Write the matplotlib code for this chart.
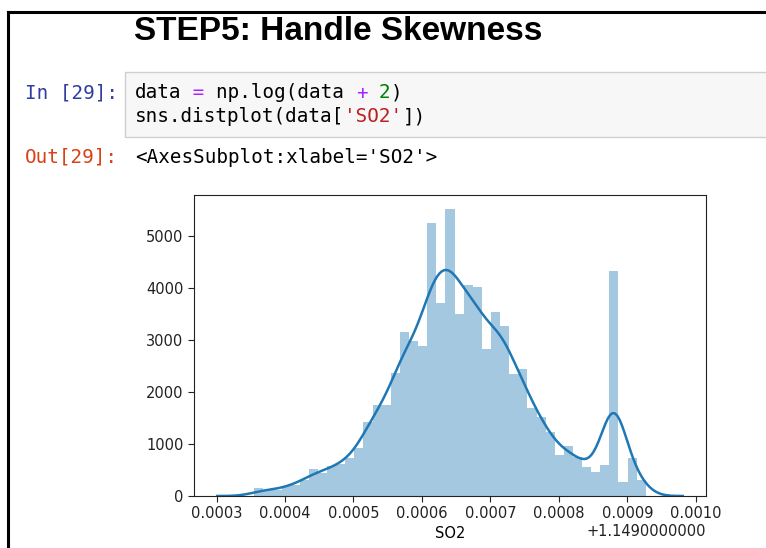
import numpy as np
import matplotlib.pyplot as plt
from matplotlib.lines import Line2D
from matplotlib.patches import Rectangle

plt.rcParams['font.family'] = ['DejaVu Sans']

W, H = 766, 548

# SO2 after np.log(data + 2); x values are offsets from 1.149
so2_offset_label = '+1.1490000000'
bin_lo = 0.000355
bin_hi = 0.000927
density = [155, 110, 110, 195, 220, 300, 510, 450, 570, 625, 730, 915,
           1430, 1750, 1750, 2360, 3150, 2985, 2890, 5245, 3714, 5515, 3500, 4050,
           4023, 2826, 3540, 3276, 2350, 2446, 1687, 1513, 1230, 786, 955,
           753, 560, 463, 593, 4324, 270, 722, 303]
kde_bw = 1.8e-5

code_lines = [
    [('data', 'k'), (' = ', '#AA22FF'), ('np.log(data ', 'k'), ('+', '#AA22FF'),
     (' ', 'k'), ('2', '#008000'), (')', 'k')],
    [('sns.distplot(data[', 'k'), ("'SO2'", '#BA2121'), ('])', 'k')],
]
out_repr = "<AxesSubplot:xlabel='SO2'>"


def fx(x):
    return x / W


def fy(y):
    return 1 - y / H


fig = plt.figure(figsize=(W / 100, H / 100), dpi=100)
fig.patch.set_facecolor('white')

# notebook frame
fig.add_artist(Line2D([fx(8), fx(W)], [fy(12), fy(12)], color='black', lw=2.2))
fig.add_artist(Line2D([fx(8), fx(8)], [fy(12), fy(H)], color='black', lw=2.2))

fig.text(fx(134), fy(31), 'STEP5: Handle Skewness', family='Liberation Sans',
         weight='bold', fontsize=24, va='center', ha='left')

# code cell
fig.add_artist(Rectangle((fx(125), fy(137)), fx(W + 10) - fx(125), fy(72) - fy(137),
                         facecolor='#f7f7f7', edgecolor='#cfcfcf', lw=1))

mono = 'DejaVu Sans Mono'
msize = 13.9
char_w = 0.602 * msize * 100 / 72

fig.text(fx(118), fy(93), 'In [29]:', family=mono, fontsize=msize,
         color='#303F9F', ha='right', va='center')
for row, segs in enumerate(code_lines):
    col = 0
    for txt, c in segs:
        fig.text(fx(135 + col * char_w), fy(93 + row * 24), txt, family=mono,
                 fontsize=msize, color=c, ha='left', va='center')
        col += len(txt)

fig.text(fx(118), fy(157), 'Out[29]:', family=mono, fontsize=msize,
         color='#D84315', ha='right', va='center')
fig.text(fx(135), fy(157), out_repr, family=mono, fontsize=msize,
         color='black', ha='left', va='center')

# distplot: density histogram + kde
ax = fig.add_axes([fx(194), fy(496), fx(706) - fx(194), fy(195) - fy(496)])

edges = np.linspace(bin_lo, bin_hi, len(density) + 1)
width = edges[1] - edges[0]
heights = np.array(density, dtype=float)
ax.bar(edges[:-1], heights, width=width, align='edge', color='#1f77b4',
       alpha=0.4, linewidth=0)

centers = (edges[:-1] + edges[1:]) / 2
weights = heights * width
weights = weights / weights.sum()
grid = np.linspace(bin_lo - 3 * kde_bw, bin_hi + 3 * kde_bw, 200)
z = (grid[:, None] - centers[None, :]) / kde_bw
kde = (weights * np.exp(-0.5 * z ** 2)).sum(axis=1) / (kde_bw * np.sqrt(2 * np.pi))
ax.plot(grid, kde, color='#1f77b4', lw=1.8)

ax.set_ylim(0, heights.max() * 1.05)
ax.set_xticks(np.arange(3, 11) / 10000)
ax.set_yticks(np.arange(0, 6000, 1000))
ax.tick_params(labelsize=10.5, colors='#222222', length=4)
for s in ax.spines.values():
    s.set_color('#222222')
ax.set_xlabel('SO2', fontsize=10.5, labelpad=3)
ax.text(1.0, -0.118, so2_offset_label, transform=ax.transAxes, ha='right',
        va='center', fontsize=10.5, color='#222222')

fig.savefig('out.png', dpi=100)
